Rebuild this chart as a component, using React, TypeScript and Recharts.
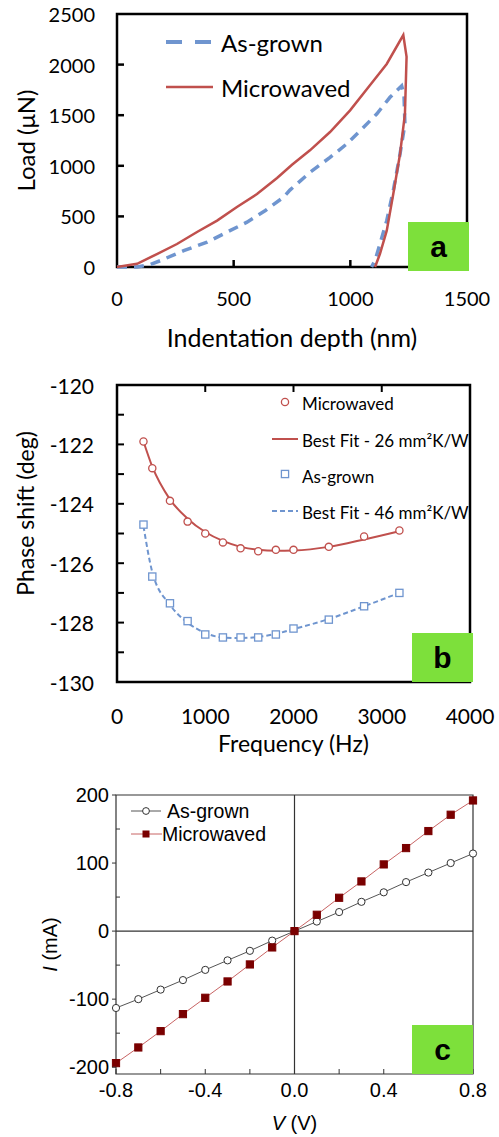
import React from 'react';
import { LineChart, ComposedChart, Line, Scatter, XAxis, YAxis, ReferenceArea, ReferenceLine, Legend } from 'recharts';

// ---------- Panel a: load vs indentation depth ----------
const asGrownDepth = [0, 86, 143, 186, 286, 386, 471, 557, 636, 714, 741, 827, 913, 984, 1049, 1113, 1170, 1220, 1230, 1234, 1213, 1184, 1156, 1127, 1106, 1091];
const asGrownLoad = [0, 0, 25, 63, 162, 245, 344, 443, 558, 690, 760, 935, 1083, 1215, 1363, 1512, 1677, 1789, 1700, 1413, 1117, 754, 458, 227, 66, 0];
const microDepth = [0, 86, 171, 257, 343, 429, 514, 600, 686, 750, 827, 913, 999, 1084, 1156, 1227, 1241, 1234, 1213, 1184, 1156, 1127, 1106];
const microLoad = [0, 32, 128, 227, 346, 458, 593, 721, 880, 1010, 1153, 1334, 1548, 1795, 2006, 2292, 2078, 1512, 1117, 721, 359, 131, 0];
const aXTicks = [0, 500, 1000, 1500];
const aYTicks = [0, 500, 1000, 1500, 2000, 2500];

// ---------- Panel b: phase shift vs frequency ----------
const freqHz = [300, 400, 600, 800, 1000, 1200, 1400, 1600, 1800, 2000, 2400, 2800, 3200];
const microPhase = [-121.9, -122.8, -123.9, -124.6, -125.0, -125.3, -125.5, -125.6, -125.55, -125.55, -125.45, -125.1, -124.9];
const microFitPhase = [-121.9, -122.75, -123.85, -124.5, -124.95, -125.25, -125.45, -125.55, -125.58, -125.57, -125.45, -125.2, -124.92];
const asGrownPhase = [-124.7, -126.45, -127.35, -127.95, -128.4, -128.5, -128.5, -128.5, -128.4, -128.2, -127.9, -127.45, -127.0];
const asGrownFitPhase = [-124.75, -126.3, -127.4, -128.0, -128.35, -128.5, -128.52, -128.48, -128.38, -128.22, -127.88, -127.45, -127.0];
const bXTicks = [0, 1000, 2000, 3000, 4000];
const bYTicks = [-130, -129, -128, -127, -126, -125, -124, -123, -122, -121, -120];

// ---------- Panel c: I-V ----------
const voltage = [-0.8, -0.7, -0.6, -0.5, -0.4, -0.3, -0.2, -0.1, 0, 0.1, 0.2, 0.3, 0.4, 0.5, 0.6, 0.7, 0.8];
const asGrownCurrent = [-113, -100, -86, -72, -57, -43, -29, -14, 0, 14, 28, 43, 57, 72, 86, 100, 114];
const microCurrent = [-194, -171, -147, -122, -98, -74, -49, -24, 0, 24, 49, 73, 98, 122, 147, 171, 192];
const cXTicks = [-0.8, -0.6, -0.4, -0.2, 0, 0.2, 0.4, 0.6, 0.8];
const cYTicks = [-200, -150, -100, -50, 0, 50, 100, 150, 200];

const aAsGrown = asGrownDepth.map((x, i) => ({ x, y: asGrownLoad[i] }));
const aMicro = microDepth.map((x, i) => ({ x, y: microLoad[i] }));
const bMicro = freqHz.map((f, i) => ({ f, p: microPhase[i] }));
const bMicroFit = freqHz.map((f, i) => ({ f, p: microFitPhase[i] }));
const bAsGrown = freqHz.map((f, i) => ({ f, p: asGrownPhase[i] }));
const bAsGrownFit = freqHz.map((f, i) => ({ f, p: asGrownFitPhase[i] }));
const cData = voltage.map((v, i) => ({ v, ag: asGrownCurrent[i], mw: microCurrent[i] }));

const CAL = 'Lato, "Open Sans", sans-serif';
const ARIAL = '"Liberation Sans", Arial, sans-serif';
const RED = '#c0504d';
const BLUE = '#6f95cf';
const GREEN = '#7de03b';

const xTitle = (text: React.ReactNode, dy: number, font: string, size: number, dx = 0) => (p: any) => {
  const vb = p.viewBox || {};
  return (
    <text x={vb.x + vb.width / 2 + dx} y={vb.y + dy} textAnchor="middle" dominantBaseline="central" fontFamily={font} fontSize={size} fill="#000">
      {text}
    </text>
  );
};
const yTitle = (text: React.ReactNode, cx: number, dy: number, font: string, size: number) => (p: any) => {
  const vb = p.viewBox || {};
  const cy = vb.y + vb.height / 2 + dy;
  return (
    <text x={cx} y={cy} transform={`rotate(-90 ${cx} ${cy})`} textAnchor="middle" dominantBaseline="central" fontFamily={font} fontSize={size} fill="#000">
      {text}
    </text>
  );
};

const GreenBox = ({ left, top, letter }: { left: number; top: number; letter: string }) => (
  <div style={{ position: 'absolute', left, top, width: 61, height: 49, background: GREEN, display: 'flex', alignItems: 'center', justifyContent: 'center', fontFamily: ARIAL, fontWeight: 'bold', fontSize: 30, color: '#000' }}>
    {letter}
  </div>
);

// ----- Panel a ticks -----
const aXTick = (p: any) => {
  const { x, y, payload } = p;
  const v = payload.value;
  return (
    <g>
      {v > 0 && v < 1500 && <line x1={x} y1={y} x2={x} y2={y - 7} stroke="#000" strokeWidth={2.5} />}
      <text x={x} y={y + 31} textAnchor="middle" dominantBaseline="central" fontFamily={CAL} fontSize={20} fill="#000">{v}</text>
    </g>
  );
};
const aYTick = (p: any) => {
  const { x, y, payload } = p;
  const v = payload.value;
  return (
    <g>
      {v > 0 && v < 2500 && <line x1={x} y1={y} x2={x + 7} y2={y} stroke="#000" strokeWidth={2.5} />}
      <text x={x - 22} y={y} textAnchor="end" dominantBaseline="central" fontFamily={CAL} fontSize={20} fill="#000">{v}</text>
    </g>
  );
};

const LegendA = () => (
  <div style={{ position: 'absolute', left: 0, top: 0, width: 0, height: 0 }}>
    <svg width={499} height={120} style={{ position: 'absolute', left: 0, top: 0, overflow: 'visible' }}>
      <line x1={166} y1={42} x2={213} y2={42} stroke={BLUE} strokeWidth={4} strokeDasharray="16 13" />
      <text x={221} y={42} dominantBaseline="central" fontFamily={CAL} fontSize={24} fill="#000">As-grown</text>
      <line x1={166} y1={87} x2={213} y2={87} stroke={RED} strokeWidth={2.5} />
      <text x={221} y={87} dominantBaseline="central" fontFamily={CAL} fontSize={24} fill="#000">Microwaved</text>
    </svg>
  </div>
);

// ----- Panel b ticks -----
const B_PLOT_H = 297;
const bXTick = (p: any) => {
  const { x, y, payload } = p;
  const v = payload.value;
  return (
    <g>
      {v > 0 && v < 4000 && <line x1={x} y1={y - B_PLOT_H} x2={x} y2={y - B_PLOT_H + 7} stroke="#000" strokeWidth={2} />}
      <text x={x} y={y + 33} textAnchor="middle" dominantBaseline="central" fontFamily={CAL} fontSize={21} fill="#000">{v}</text>
    </g>
  );
};
const bYTick = (p: any) => {
  const { x, y, payload } = p;
  const v = payload.value;
  const major = Math.round(v) % 2 === 0;
  return (
    <g>
      {v > -130 && v < -120 && <line x1={x} y1={y} x2={x + 7} y2={y} stroke="#000" strokeWidth={2} />}
      {major && <text x={x - 23} y={y} textAnchor="end" dominantBaseline="central" fontFamily={CAL} fontSize={21} fill="#000">{v}</text>}
    </g>
  );
};
const circleShape = (p: any) => <circle cx={p.cx} cy={p.cy} r={3.6} fill="#fff" stroke={RED} strokeWidth={1.3} />;
const squareShape = (p: any) => <rect x={p.cx - 3.6} y={p.cy - 3.6} width={7.2} height={7.2} fill="#fff" stroke={BLUE} strokeWidth={1.3} />;

const LegendB = () => (
  <div style={{ position: 'absolute', left: 0, top: 0, width: 0, height: 0 }}>
    <svg width={499} height={160} style={{ position: 'absolute', left: 0, top: 0, overflow: 'visible' }}>
      <circle cx={285} cy={32} r={3.6} fill="#fff" stroke={RED} strokeWidth={1.3} />
      <text x={302} y={33} dominantBaseline="central" fontFamily={CAL} fontSize={17} fill="#000">Microwaved</text>
      <line x1={272} y1={69} x2={298} y2={69} stroke={RED} strokeWidth={2} />
      <text x={302} y={70} dominantBaseline="central" fontFamily={CAL} fontSize={17} fill="#000">Best Fit - 26 mm²K/W</text>
      <rect x={281.4} y={100.4} width={7.2} height={7.2} fill="#fff" stroke={BLUE} strokeWidth={1.3} />
      <text x={302} y={106} dominantBaseline="central" fontFamily={CAL} fontSize={17} fill="#000">As-grown</text>
      <line x1={272} y1={141} x2={298} y2={141} stroke={BLUE} strokeWidth={2} strokeDasharray="5 3" />
      <text x={302} y={142} dominantBaseline="central" fontFamily={CAL} fontSize={17} fill="#000">Best Fit - 46 mm²K/W</text>
    </svg>
  </div>
);

// ----- Panel c ticks -----
const cXTick = (p: any) => {
  const { x, y, payload } = p;
  const v = payload.value;
  const major = Math.abs(Math.round(v * 10)) % 4 === 0;
  return (
    <g>
      <line x1={x} y1={y} x2={x} y2={y - 5} stroke="#333" strokeWidth={1} />
      {major && <text x={x} y={y + 16} textAnchor="middle" dominantBaseline="central" fontFamily={ARIAL} fontSize={20} fill="#000">{v.toFixed(1)}</text>}
    </g>
  );
};
const cYTick = (p: any) => {
  const { x, y, payload } = p;
  const v = payload.value;
  const major = v % 100 === 0;
  return (
    <g>
      {major ? <line x1={x - 4} y1={y} x2={x} y2={y} stroke="#333" strokeWidth={1} /> : <line x1={x} y1={y} x2={x + 4} y2={y} stroke="#333" strokeWidth={1} />}
      {major && <text x={x - 7} y={y} textAnchor="end" dominantBaseline="central" fontFamily={ARIAL} fontSize={20} fill="#000">{v}</text>}
    </g>
  );
};
const cCircle = (p: any) => (p.cx == null ? null : <circle key={`c${p.index}`} cx={p.cx} cy={p.cy} r={3.6} fill="#fff" stroke="#333" strokeWidth={1} />);
const cSquare = (p: any) => (p.cx == null ? null : <rect key={`s${p.index}`} x={p.cx - 3.6} y={p.cy - 3.6} width={7.2} height={7.2} fill="#7a0000" stroke="#7a0000" />);

const LegendC = () => (
  <div style={{ position: 'absolute', left: 0, top: 0, width: 0, height: 0 }}>
    <svg width={499} height={80} style={{ position: 'absolute', left: 0, top: 0, overflow: 'visible' }}>
      <line x1={131} y1={31} x2={161} y2={31} stroke="#555" strokeWidth={1} />
      <circle cx={146} cy={31} r={3.4} fill="#fff" stroke="#333" strokeWidth={1} />
      <text x={167} y={31} dominantBaseline="central" fontFamily={ARIAL} fontSize={19.5} fill="#000">As-grown</text>
      <line x1={131} y1={54} x2={162} y2={54} stroke="#c86464" strokeWidth={1} />
      <rect x={142.5} y={50.5} width={7} height={7} fill="#7a0000" />
      <text x={162} y={54} dominantBaseline="central" fontFamily={ARIAL} fontSize={19.5} fill="#000">Microwaved</text>
    </svg>
  </div>
);

export default function App() {
  return (
    <div style={{ position: 'absolute', left: 0, top: 0, width: 499, height: 1137, background: '#fff', overflow: 'hidden' }}>
      {/* Panel a */}
      <div style={{ position: 'absolute', left: 0, top: 0 }}>
        <LineChart width={499} height={370} margin={{ top: 14, right: 32, bottom: 0, left: 0 }}>
          <XAxis type="number" dataKey="x" domain={[0, 1500]} ticks={aXTicks} axisLine={false} tickLine={false} tickSize={0} tickMargin={0} height={103} tick={aXTick} interval={0}
            label={xTitle('Indentation depth (nm)', 70, CAL, 25)} />
          <YAxis type="number" domain={[0, 2500]} ticks={aYTicks} axisLine={false} tickLine={false} tickSize={0} tickMargin={0} width={117} tick={aYTick} interval={0}
            label={yTitle('Load (μN)', 25, 0, CAL, 24)} />
          <ReferenceArea x1={0} x2={1500} y1={0} y2={2500} fill="none" stroke="#000" strokeWidth={2.5} />
          <Line data={aAsGrown} dataKey="y" type="linear" stroke={BLUE} strokeWidth={3.5} strokeDasharray="10 7" dot={false} isAnimationActive={false} />
          <Line data={aMicro} dataKey="y" type="linear" stroke={RED} strokeWidth={2.5} dot={false} isAnimationActive={false} />
          <Legend content={LegendA} verticalAlign="middle" align="center" layout="horizontal" wrapperStyle={{ left: 0, top: 0, width: 0, height: 0 }} />
        </LineChart>
        <GreenBox left={408} top={222} letter="a" />
      </div>

      {/* Panel b */}
      <div style={{ position: 'absolute', left: 0, top: 370 }}>
        <ComposedChart width={499} height={430} margin={{ top: 15, right: 29, bottom: 0, left: 0 }}>
          <XAxis type="number" dataKey="f" domain={[0, 4000]} ticks={bXTicks} axisLine={false} tickLine={false} tickSize={0} tickMargin={0} height={118} tick={bXTick} interval={0}
            label={xTitle('Frequency (Hz)', 61, CAL, 23)} />
          <YAxis type="number" domain={[-130, -120]} ticks={bYTicks} axisLine={false} tickLine={false} tickSize={0} tickMargin={0} width={117} tick={bYTick} interval={0}
            label={yTitle('Phase shift (deg)', 25, -20, CAL, 23)} />
          <ReferenceArea x1={0} x2={4000} y1={-130} y2={-120} fill="none" stroke="#000" strokeWidth={2.5} />
          <Line data={bMicroFit} dataKey="p" type="monotone" stroke={RED} strokeWidth={2} dot={false} isAnimationActive={false} />
          <Line data={bAsGrownFit} dataKey="p" type="monotone" stroke={BLUE} strokeWidth={2} strokeDasharray="5 3" dot={false} isAnimationActive={false} />
          <Scatter data={bMicro} dataKey="p" shape={circleShape} isAnimationActive={false} />
          <Scatter data={bAsGrown} dataKey="p" shape={squareShape} isAnimationActive={false} />
          <Legend content={LegendB} verticalAlign="middle" align="center" layout="horizontal" wrapperStyle={{ left: 0, top: 0, width: 0, height: 0 }} />
        </ComposedChart>
        <GreenBox left={412} top={263} letter="b" />
      </div>

      {/* Panel c */}
      <div style={{ position: 'absolute', left: 0, top: 780 }}>
        <LineChart width={499} height={357} data={cData} margin={{ top: 15, right: 26, bottom: 0, left: 0 }}>
          <XAxis type="number" dataKey="v" domain={[-0.8, 0.8]} ticks={cXTicks} axisLine={false} tickLine={false} tickSize={0} tickMargin={0} height={63} tick={cXTick} interval={0}
            label={xTitle(<><tspan fontStyle="italic">V</tspan> (V)</>, 49, ARIAL, 20, 0)} />
          <YAxis type="number" domain={[-210, 200]} ticks={cYTicks} axisLine={false} tickLine={false} tickSize={0} tickMargin={0} width={116} tick={cYTick} interval={0}
            label={yTitle(<><tspan fontStyle="italic">I</tspan> (mA)</>, 50, 10, ARIAL, 20)} />
          <ReferenceArea x1={-0.8} x2={0.8} y1={-210} y2={200} fill="none" stroke="#333" strokeWidth={1.2} />
          <ReferenceLine x={0} stroke="#333" strokeWidth={1.2} />
          <ReferenceLine y={0} stroke="#333" strokeWidth={1.2} />
          <Line dataKey="ag" type="linear" stroke="#555" strokeWidth={1} dot={cCircle} isAnimationActive={false} />
          <Line dataKey="mw" type="linear" stroke="#c86464" strokeWidth={1} dot={cSquare} isAnimationActive={false} />
          <Legend content={LegendC} verticalAlign="middle" align="center" layout="horizontal" wrapperStyle={{ left: 0, top: 0, width: 0, height: 0 }} />
        </LineChart>
        <GreenBox left={412} top={245} letter="c" />
      </div>
    </div>
  );
}
